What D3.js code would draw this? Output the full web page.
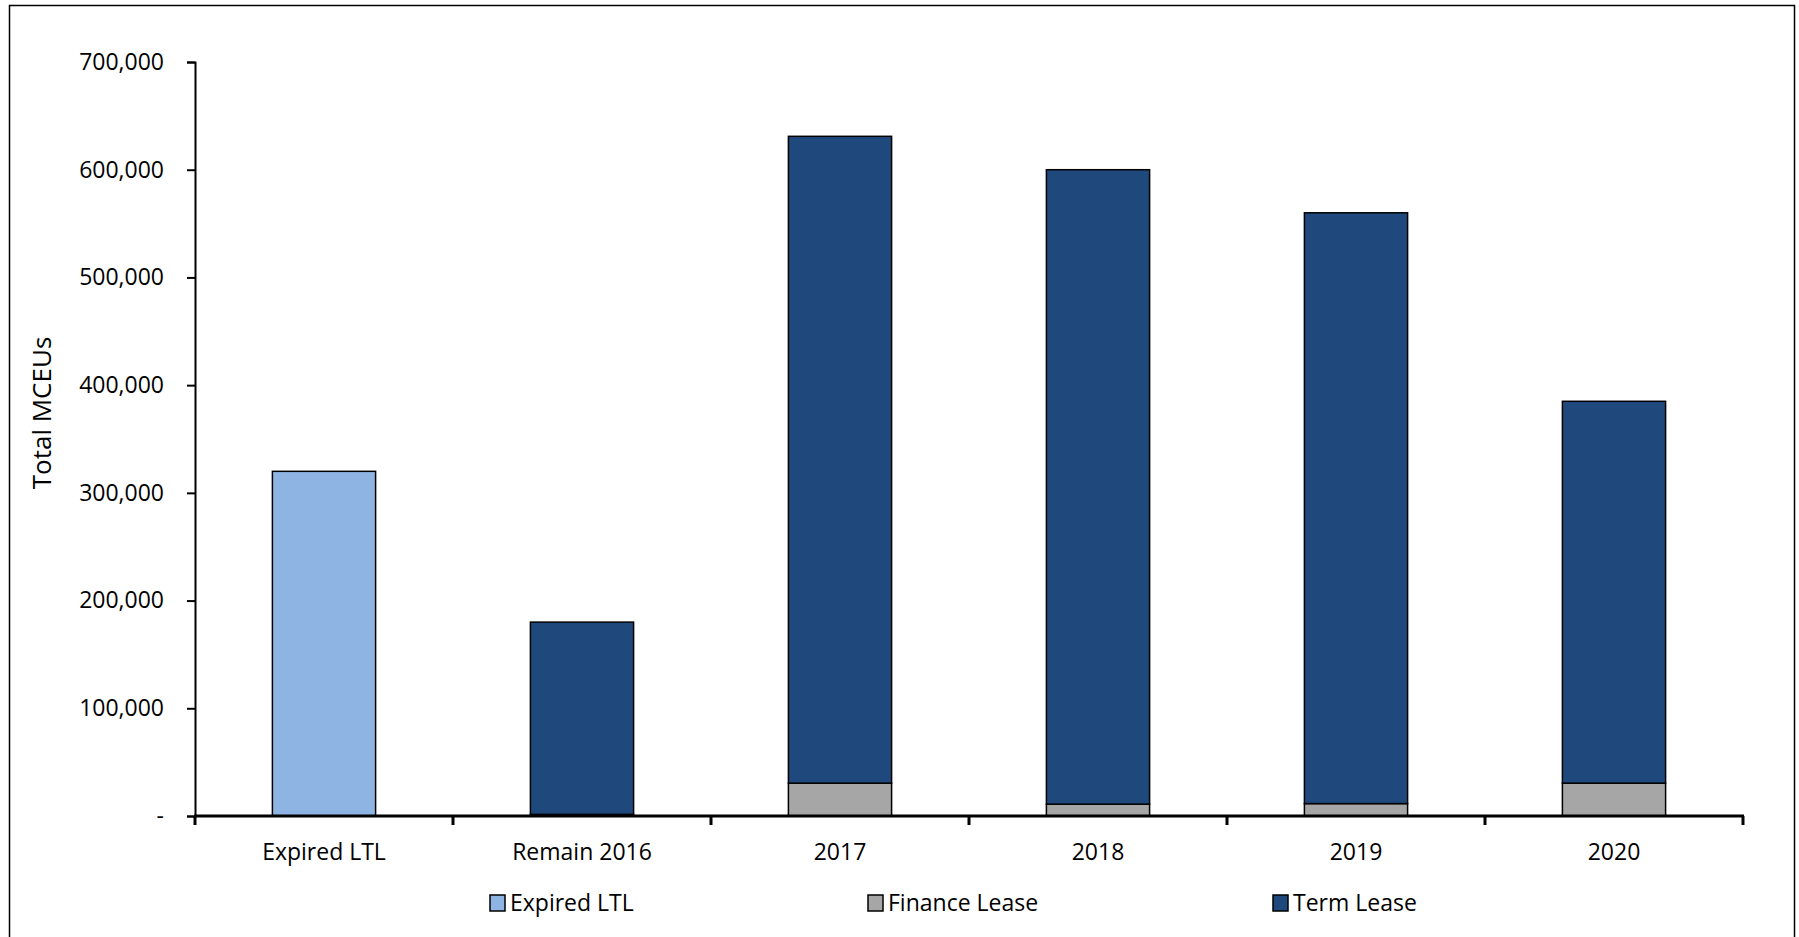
<!DOCTYPE html>
<html>
<head>
<meta charset="utf-8">
<script src="https://cdn.jsdelivr.net/npm/d3@7"></script>
<style>
  html, body { margin: 0; padding: 0; background: #fff; }
  svg { display: block; }
  text { font-family: "Open Sans", "Liberation Sans", sans-serif; fill: #000; }
</style>
</head>
<body>
<svg id="chart" width="1799" height="937"></svg>
<script>
const categories = ["Expired LTL", "Remain 2016", "2017", "2018", "2019", "2020"];
const seriesNames = ["Expired LTL", "Finance Lease", "Term Lease"];
const expiredLTL = [320000, 0, 0, 0, 0, 0];
const financeLease = [0, 1500, 30500, 11000, 11500, 30500];
const termLease = [0, 178500, 600500, 589000, 548500, 354500];
const yTicks = [0, 100000, 200000, 300000, 400000, 500000, 600000, 700000];
const colors = ["#8EB4E3", "#A6A6A6", "#1F497D"];
const yTitle = "Total MCEUs";

const rows = categories.map((c, i) => ({
  cat: c,
  "Expired LTL": expiredLTL[i],
  "Finance Lease": financeLease[i],
  "Term Lease": termLease[i]
}));

const svg = d3.select("#chart");

// outer frame
svg.append("rect").attr("x", 9.5).attr("y", 5.5).attr("width", 1785).attr("height", 960)
  .attr("fill", "none").attr("stroke", "#000").attr("stroke-width", 1.5);

const x = d3.scaleBand().domain(categories).range([195, 1743]).paddingInner(0.6).paddingOuter(0.3);
const y = d3.scaleLinear().domain([0, 700000]).range([816, 62]);
const color = d3.scaleOrdinal().domain(seriesNames).range(colors);

const stack = d3.stack().keys(seriesNames);
const stacked = stack(rows);

const g = svg.append("g");
stacked.forEach(layer => {
  g.selectAll(null)
    .data(layer.filter(d => d[1] - d[0] > 0))
    .join("rect")
    .attr("x", d => x(d.data.cat))
    .attr("width", x.bandwidth())
    .attr("y", d => y(d[1]))
    .attr("height", d => y(d[0]) - y(d[1]))
    .attr("fill", color(layer.key))
    .attr("stroke", "#000")
    .attr("stroke-width", 1.5);
});

// Y axis
const yAxis = d3.axisLeft(y).tickValues(yTicks)
  .tickFormat(d => d === 0 ? "-" : d3.format(",")(d))
  .tickSize(8).tickPadding(23);
const ya = svg.append("g").attr("transform", "translate(195,0)").call(yAxis);
ya.select(".domain").attr("stroke", "#000").attr("stroke-width", 2);
ya.selectAll(".tick line").attr("stroke", "#000").attr("stroke-width", 2);
ya.selectAll("text").style("font-size", "23px").attr("fill", "#000");

// X axis labels at band centers
const xAxis = d3.axisBottom(x).tickSize(0).tickPadding(28);
const xa = svg.append("g").attr("transform", "translate(0,816)").call(xAxis);
xa.select(".domain").remove();
xa.selectAll("text").style("font-size", "23px").attr("fill", "#000");

// X axis line & boundary ticks
const x0 = x.range()[0], x1 = x.range()[1];
svg.append("line").attr("x1", x0 - 1).attr("x2", x1 + 1).attr("y1", 816).attr("y2", 816)
  .attr("stroke", "#000").attr("stroke-width", 3);
const bounds = d3.range(categories.length + 1).map(i => x0 + i * x.step());
svg.selectAll(null).data(bounds).join("line")
  .attr("x1", d => d).attr("x2", d => d)
  .attr("y1", 816).attr("y2", 825)
  .attr("stroke", "#000").attr("stroke-width", 3);

// Y axis title
svg.append("text")
  .attr("transform", "translate(51,413) rotate(-90)")
  .attr("text-anchor", "middle")
  .style("font-size", "26px")
  .text(yTitle);

// Legend
const legendX = [490, 868, 1273];
const lg = svg.append("g");
seriesNames.forEach((s, i) => {
  const item = lg.append("g").attr("transform", `translate(${legendX[i]},903)`);
  item.append("rect").attr("x", 0).attr("y", -8).attr("width", 15).attr("height", 16)
    .attr("fill", color(s)).attr("stroke", "#000").attr("stroke-width", 1.5);
  item.append("text").attr("x", 20).attr("y", 0).attr("dy", "0.35em")
    .style("font-size", "23px").text(s);
});
</script>
</body>
</html>
